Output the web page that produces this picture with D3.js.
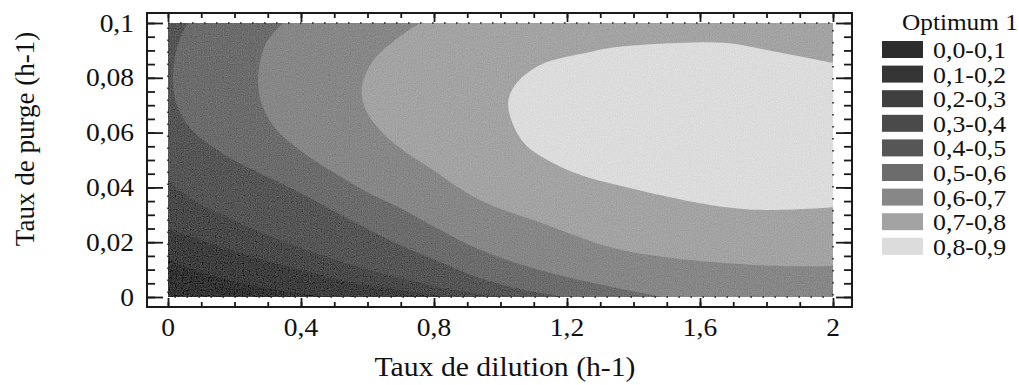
<!DOCTYPE html>
<html><head><meta charset="utf-8">
<script src="https://cdn.jsdelivr.net/npm/d3@7"></script>
<style>
html,body{margin:0;padding:0;background:#fff;}
</style></head>
<body><svg id="chart" width="1019" height="385"></svg>
<script>
// ---- data ----
const levels = [0.0,0.1,0.2,0.3,0.4,0.5,0.6,0.7,0.8];
const legendLabels = ["0,0-0,1","0,1-0,2","0,2-0,3","0,3-0,4","0,4-0,5","0,5-0,6","0,6-0,7","0,7-0,8","0,8-0,9"];
const bandColors = ["#2c2c2c","#353535","#3f3f3f","#4a4a4a","#565656","#6c6c6c","#878787","#a3a3a3","#dcdcdc"];
const xMajor = [0,0.4,0.8,1.2,1.6,2];
const xTickLabels = ["0","0,4","0,8","1,2","1,6","2"];
const yMajor = [0,0.02,0.04,0.06,0.08,0.1];
const yTickLabels = ["0","0,02","0,04","0,06","0,08","0,1"];
const xMinor = d3.range(0,2.0001,0.1);
const yMinor = d3.range(0,0.10001,0.005);

// contour lines [dilution, purge]
const c02 = [[0,0.0135],[0.096,0.0091],[0.217,0.0051],[0.367,0.0018],[0.487,0]];
const c03 = [[0,0.025],[0.096,0.0208],[0.247,0.015],[0.397,0.0099],[0.547,0.0055],[0.698,0.0026],[0.848,0]];
const c04 = [[0,0.0427],[0.075,0.0354],[0.177,0.0292],[0.277,0.0237],[0.376,0.019],[0.487,0.0142],[0.577,0.0109],[0.698,0.0069],[0.818,0.0036],[0.938,0.0011],[1.029,0]];
const c05 = [[0.058,0.1],[0.027,0.0909],[0.015,0.0785],[0.027,0.0701],[0.066,0.0617],[0.126,0.0555],[0.208,0.0493],[0.307,0.0434],[0.427,0.0361],[0.538,0.0288],[0.677,0.0201],[0.818,0.0128],[0.938,0.0069],[1.059,0.0029],[1.188,0]];
const c06 = [[0.346,0.1],[0.292,0.092],[0.271,0.0792],[0.283,0.0701],[0.322,0.0617],[0.397,0.0536],[0.496,0.0456],[0.598,0.0383],[0.698,0.0325],[0.818,0.0245],[0.938,0.0172],[1.14,0.0091],[1.339,0.0036],[1.489,0]];
const c07 = [[0.758,0.1],[0.683,0.0938],[0.614,0.0858],[0.583,0.0763],[0.595,0.0682],[0.638,0.0609],[0.698,0.0544],[0.788,0.0471],[0.938,0.0354],[1.14,0.0263],[1.339,0.0179],[1.54,0.0139],[1.841,0.0113],[2,0.0113]];
const c08 = [[2,0.0854],[1.832,0.0894],[1.681,0.0927],[1.531,0.0927],[1.329,0.0909],[1.269,0.0894],[1.119,0.0847],[1.044,0.0774],[1.023,0.0701],[1.068,0.0566],[1.17,0.0482],[1.269,0.0434],[1.389,0.0398],[1.479,0.0372],[1.63,0.0336],[1.781,0.0318],[2,0.0328]];
const regions = [
  {level:0.2, line:c02, corners:[[2,0],[2,0.1],[0,0.1]]},
  {level:0.3, line:c03, corners:[[2,0],[2,0.1],[0,0.1]]},
  {level:0.4, line:c04, corners:[[2,0],[2,0.1],[0,0.1]]},
  {level:0.5, line:c05, corners:[[2,0],[2,0.1]]},
  {level:0.6, line:c06, corners:[[2,0],[2,0.1]]},
  {level:0.7, line:c07, corners:[[2,0.1]]},
  {level:0.8, line:c08, corners:[]}
];
const baseLevel = 0.1;

// ---- drawing ----
const FONT = '"Liberation Serif","Times New Roman","DejaVu Serif",serif';
const svg = d3.select("#chart");
const x = d3.scaleLinear().domain([0,2]).range([168,833]);
const y = d3.scaleLinear().domain([0,0.1]).range([297,23]);
const colorOf = l => bandColors[Math.round(l*10)];

// halftone-like grain
const defs = svg.append("defs");
const f = defs.append("filter").attr("id","grain").attr("x",0).attr("y",0).attr("width",1).attr("height",1);
f.append("feTurbulence").attr("type","fractalNoise").attr("baseFrequency",0.85).attr("numOctaves",1).attr("seed",3).attr("result","n");
f.append("feColorMatrix").attr("in","n").attr("type","matrix")
  .attr("values","0.33 0.33 0.33 0 0 0.33 0.33 0.33 0 0 0.33 0.33 0.33 0 0 0 0 0 0 1").attr("result","g");
f.append("feComposite").attr("in","SourceGraphic").attr("in2","g").attr("operator","arithmetic")
  .attr("k1",0).attr("k2",1).attr("k3",0.3).attr("k4",-0.15);

const plot = svg.append("g").attr("filter","url(#grain)");
plot.append("rect").attr("x",x(0)).attr("y",y(0.1)).attr("width",x(2)-x(0)).attr("height",y(0)-y(0.1))
  .attr("fill",colorOf(baseLevel));
const lineGen = d3.line().x(d=>x(d[0])).y(d=>y(d[1])).curve(d3.curveCatmullRom.alpha(0.5));
regions.forEach(r=>{
  const p = lineGen(r.line) + r.corners.map(c=>`L${x(c[0])},${y(c[1])}`).join("") + "Z";
  plot.append("path").attr("d",p).attr("fill",colorOf(r.level));
});
svg.append("rect").attr("x",x(0)).attr("y",y(0.1)).attr("width",x(2)-x(0)).attr("height",y(0)-y(0.1))
  .attr("fill","none").attr("stroke","#222").attr("stroke-width",1.6).attr("stroke-dasharray","1.6,10.4");

// frame
const fx0=147, fx1=852, fy0=13, fy1=307;
svg.append("rect").attr("x",fx0).attr("y",fy0).attr("width",fx1-fx0).attr("height",fy1-fy0)
  .attr("fill","none").attr("stroke","#1a1a1a").attr("stroke-width",2);

function ticks(axis, tx, ty){
  const g = svg.append("g").attr("transform",`translate(${tx},${ty})`).call(axis);
  g.select(".domain").remove();
  g.selectAll("line").attr("stroke","#1a1a1a").attr("stroke-width",1.8);
}
ticks(d3.axisLeft(y).tickValues(yMinor).tickSize(-8).tickFormat(""), fx0, 0);
ticks(d3.axisLeft(y).tickValues(yMajor).tickSize(-16).tickFormat(""), fx0, 0);
ticks(d3.axisRight(y).tickValues(yMinor).tickSize(-8).tickFormat(""), fx1, 0);
ticks(d3.axisRight(y).tickValues(yMajor).tickSize(-16).tickFormat(""), fx1, 0);
ticks(d3.axisTop(x).tickValues(xMinor).tickSize(-5).tickFormat(""), 0, fy0);
ticks(d3.axisTop(x).tickValues(xMajor).tickSize(-9).tickFormat(""), 0, fy0);
ticks(d3.axisBottom(x).tickValues(xMinor).tickSize(-5).tickFormat(""), 0, fy1);
ticks(d3.axisBottom(x).tickValues(xMajor).tickSize(-9).tickFormat(""), 0, fy1);

function label(tx, ty, txt, size, anchor, extra){
  return svg.append("text").attr("transform",`translate(${tx},${ty}) ${extra||"scale(1.1,1)"}`)
    .attr("text-anchor",anchor).attr("font-family",FONT).attr("font-size",size).attr("fill","#111").text(txt);
}
yMajor.forEach((v,i)=>label(134, y(v)+8.5, yTickLabels[i], 25, "end"));
xMajor.forEach((v,i)=>label(x(v), 336, xTickLabels[i], 25, "middle"));
label(505, 376, "Taux de dilution (h-1)", 27, "middle");
label(34, 139, "Taux de purge (h-1)", 27, "middle", "rotate(-90)");

// legend
label(902, 30, "Optimum 1", 23, "start");
levels.forEach((l,i)=>{
  const by = 58 + i*24.6;
  svg.append("rect").attr("x",882).attr("y",by-17).attr("width",41).attr("height",17).attr("fill",bandColors[i]);
  label(933, by, legendLabels[i], 23.5, "start");
});
</script></body></html>
